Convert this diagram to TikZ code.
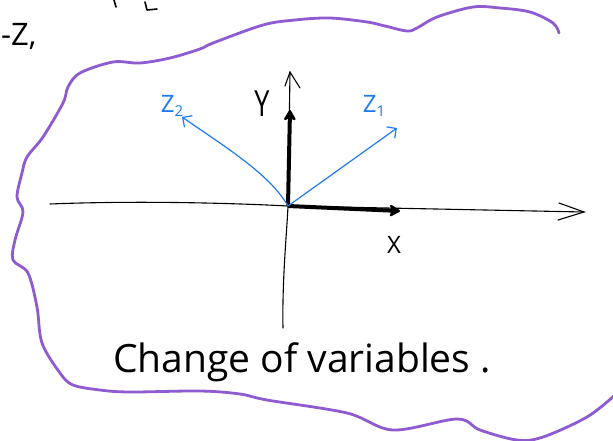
\documentclass[tikz,border=0pt]{standalone}
\usepackage{fontspec}
\setmainfont{Open Sans}
\usetikzlibrary{arrows.meta}
\definecolor{blobpurple}{HTML}{8E5BD0}
\definecolor{zblue}{HTML}{1E7BF0}
\tikzset{
  blob/.style={draw=blobpurple, line width=2.8pt, line cap=round, line join=round},
  thinaxis/.style={draw=black, line width=1.1pt, line cap=round},
  thickarrow/.style={draw=black, line width=4pt, -{Stealth[length=13pt,width=15pt,round]}},
  bluearrow/.style={draw=zblue, line width=1.2pt, -{Straight Barb[length=7pt,width=14pt]}},
  lbl/.style={inner sep=0pt, font=\fontsize{24}{26}\selectfont},
  bluelbl/.style={lbl, text=zblue},
}
\begin{document}
\begin{tikzpicture}[x=1pt,y=-1pt]
\useasboundingbox (0,0) rectangle (613,440);
\fill[white] (0,0) rectangle (613,440);
\clip (0,0) rectangle (613,440);

% purple blob outline
\draw[blob] plot[smooth, tension=0.55] coordinates {
 (559,33) (553,23) (530,12) (500,8) (473,7) (437,17) (417,28) (407,31) (385,26) (367,22)
 (330,18) (295,20) (263,25) (213,43) (200,49) (170,58) (140,63) (113,62) (80,73) (68,87)
 (63,103) (43,137) (27,157) (22,173) (17,197) (23,212) (15,240) (13,260) (28,273)
 (37,307) (42,343) (60,373) (73,385) (100,390) (130,392) (200,391) (240,394) (267,400)
 (347,413) (393,430) (457,419) (480,430) (517,440) (543,437) (587,417) (615,395)};

% cut-off text at top left
\node[anchor=west, inner sep=0pt, font=\fontsize{31}{33}\selectfont] (minusz) at (1,36) {-Z,};
\coordinate (frA) at (114,0);
\coordinate (frB) at (116,7);
\draw[line width=1.6pt, line cap=round] (frA) -- (frB);
\coordinate (frC) at (145,2);
\coordinate (frD) at (147,10);
\coordinate (frE) at (157,9);
\draw[line width=1.6pt, line cap=round, line join=round] (frC) -- (frD) -- (frE);

% coordinates
\coordinate (O) at (288,206);
\coordinate (hL) at (50,204);
\coordinate (hR) at (584,212);
\coordinate (vB) at (283,328);
\coordinate (vT) at (290,72);
\coordinate (xT) at (400,211);
\coordinate (yT) at (290,110);
\coordinate (z1T) at (397,128);
\coordinate (z2T) at (182,117);

% thin axes
\draw[thinaxis] (hL) .. controls (150,200) and (250,204) .. (O) -- (hR);
\draw[thinaxis] (559,203) -- (hR) -- (558,220);
\draw[thinaxis] (vB) .. controls (282,280) and (287,230) .. (O) -- (vT);
\draw[thinaxis] (285,86) -- (vT) -- (300,88);

% thick unit arrows
\draw[thickarrow] (O) -- (xT);
\draw[thickarrow] (O) -- (yT);

% blue rotated axes
\draw[bluearrow] (O) -- (z1T);
\draw[bluearrow] (O) .. controls (270,175) and (230,150) .. (z2T);

% labels
\node[lbl, font=\fontsize{36}{38}\selectfont, xscale=0.75] (Ylbl) at (262,104) {Y};
\node[lbl] (Xlbl) at (394,245) {X};
\node[bluelbl] (Z1lbl) at (374,106) {Z\raisebox{-0.25ex}{\fontsize{15}{16}\selectfont 1}};
\node[bluelbl] (Z2lbl) at (172,106) {Z\raisebox{-0.25ex}{\fontsize{15}{16}\selectfont 2}};

\node[inner sep=0pt, font=\fontsize{39}{42}\selectfont] (title) at (302,362) {Change of variables .};
\end{tikzpicture}
\end{document}
